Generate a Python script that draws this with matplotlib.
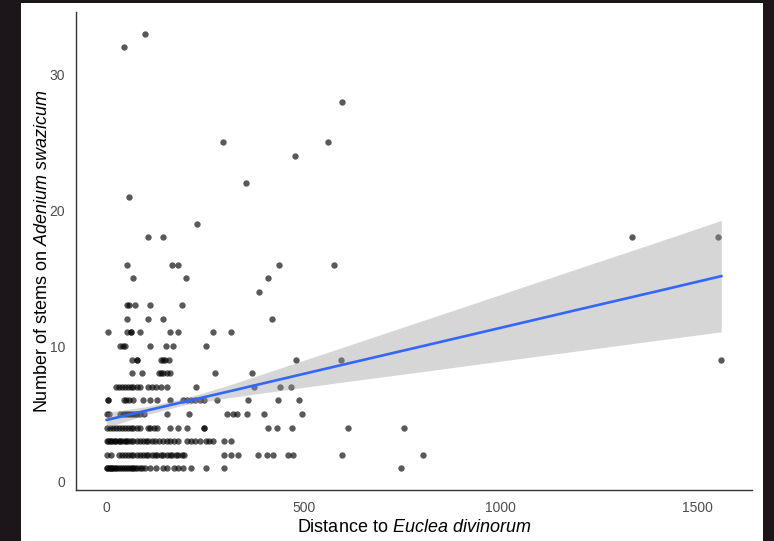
import numpy as np
import matplotlib
matplotlib.use("Agg")
from matplotlib import pyplot as plt
from matplotlib.patches import Rectangle

plt.rcParams['font.family'] = ['Liberation Sans', 'DejaVu Sans']
plt.rcParams['mathtext.fontset'] = 'custom'
plt.rcParams['mathtext.rm'] = 'Liberation Sans'
plt.rcParams['mathtext.it'] = 'Liberation Sans:italic'

# distance values for each stem count
stem_levels = [1, 2, 3, 4, 5, 6, 7, 8, 9, 10, 11, 12, 13, 14, 15, 16, 18, 19, 21, 22, 24, 25, 28, 32, 33]
dist_by_level = [
    [0, 2, 5, 8, 10, 13, 16, 20, 24, 28, 33, 38, 43, 48, 53, 58, 63, 68, 73, 78, 84, 90, 96,
     111, 124, 142, 154, 170, 180, 195, 213, 253, 299, 747],
    [0, 10, 30, 38, 46, 53, 61, 68, 76, 84, 91, 99, 106, 114, 122, 129, 137, 144, 152, 160, 167,
     175, 182, 190, 197, 299, 316, 334, 385, 408, 423, 461, 473, 597, 803],
    [0, 3, 8, 12, 15, 20, 23, 30, 35, 38, 46, 50, 53, 61, 68, 76, 84, 91, 99, 106, 114, 122, 132,
     142, 152, 162, 172, 182, 203, 213, 225, 238, 251, 261, 271, 299, 316],
    [0, 8, 15, 23, 30, 38, 46, 53, 61, 68, 76, 84, 104, 111, 119, 129, 162, 182, 205, 246, 246,
     410, 433, 471, 613, 755],
    [0, 5, 35, 41, 46, 51, 56, 61, 66, 71, 76, 84, 94, 154, 208, 306, 322, 332, 357, 400, 496],
    [3, 3, 43, 48, 56, 66, 91, 111, 129, 162, 195, 203, 213, 225, 236, 246, 281, 360, 436, 489],
    [23, 30, 38, 46, 53, 61, 68, 76, 84, 106, 116, 124, 137, 152, 228, 375, 441, 468],
    [63, 89, 132, 137, 142, 152, 162, 276, 370],
    [65, 78, 78, 137, 142, 147, 157, 481, 595, 1561],
    [35, 41, 46, 111, 150, 169, 251],
    [3, 51, 61, 61, 84, 162, 180, 271, 316],
    [51, 104, 142, 420],
    [51, 56, 73, 111, 190],
    [386],
    [66, 201, 410],
    [51, 166, 181, 437, 577],
    [105, 143, 1334, 1552],
    [230],
    [57],
    [354],
    [479],
    [296, 561],
    [598],
    [44],
    [97],
]

distance = np.concatenate([np.array(d, dtype=float) for d in dist_by_level])
stems = np.concatenate([np.full(len(d), s, dtype=float) for s, d in zip(stem_levels, dist_by_level)])

# fitted line and 95% band
fit_x = [0, 100, 200, 300, 400, 600, 800, 1000, 1200, 1400, 1561]
fit_mid = [4.56, 5.24, 5.92, 6.59, 7.27, 8.63, 9.98, 11.34, 12.70, 14.05, 15.15]
fit_lo = [4.01, 4.94, 5.68, 6.15, 6.56, 7.35, 8.11, 8.89, 9.66, 10.43, 11.05]
fit_hi = [5.11, 5.54, 6.16, 7.03, 7.98, 9.91, 11.85, 13.79, 15.74, 17.67, 19.25]

xticks = [0, 500, 1000, 1500]
yticks = [0, 10, 20, 30]

fig = plt.figure(figsize=(7.74, 5.41), dpi=100, facecolor='#1c1519')
fig.patches.append(Rectangle((21 / 774, 0), (763 - 21) / 774, 1 - 3 / 541,
                             transform=fig.transFigure, facecolor='white',
                             edgecolor='none', zorder=-10))
ax = fig.add_axes([76 / 774, 1 - 490 / 541, (752 - 76) / 774, (490 - 12) / 541])
ax.set_facecolor('white')

ax.scatter(distance, stems, s=21, color='black', alpha=0.65, linewidths=0, zorder=2)
ax.fill_between(fit_x, fit_lo, fit_hi, color='#999999', alpha=0.4,
                linewidth=0, zorder=3)
ax.plot(fit_x, fit_mid, color='#3366FF', lw=1.9, zorder=4)

ax.set_xlim(-78, 1639)
ax.set_ylim(-0.6, 34.6)
ax.set_xticks(xticks)
ax.set_yticks(yticks)
ax.tick_params(length=0, labelsize=10, labelcolor='#4d4d4d')
ax.tick_params(axis='x', pad=8)
ax.tick_params(axis='y', pad=8)
for side in ['top', 'right']:
    ax.spines[side].set_visible(False)
for side in ['left', 'bottom']:
    ax.spines[side].set_color('#333333')
    ax.spines[side].set_linewidth(1.0)

ax.set_xlabel(r'Distance to $\it{Euclea\ divinorum}$', fontsize=13, color='black', labelpad=3)
ax.set_ylabel(r'Number of stems on $\it{Adenium\ swazicum}$', fontsize=13, color='black', labelpad=-1)

fig.savefig('out.png', dpi=100, facecolor=fig.get_facecolor())
